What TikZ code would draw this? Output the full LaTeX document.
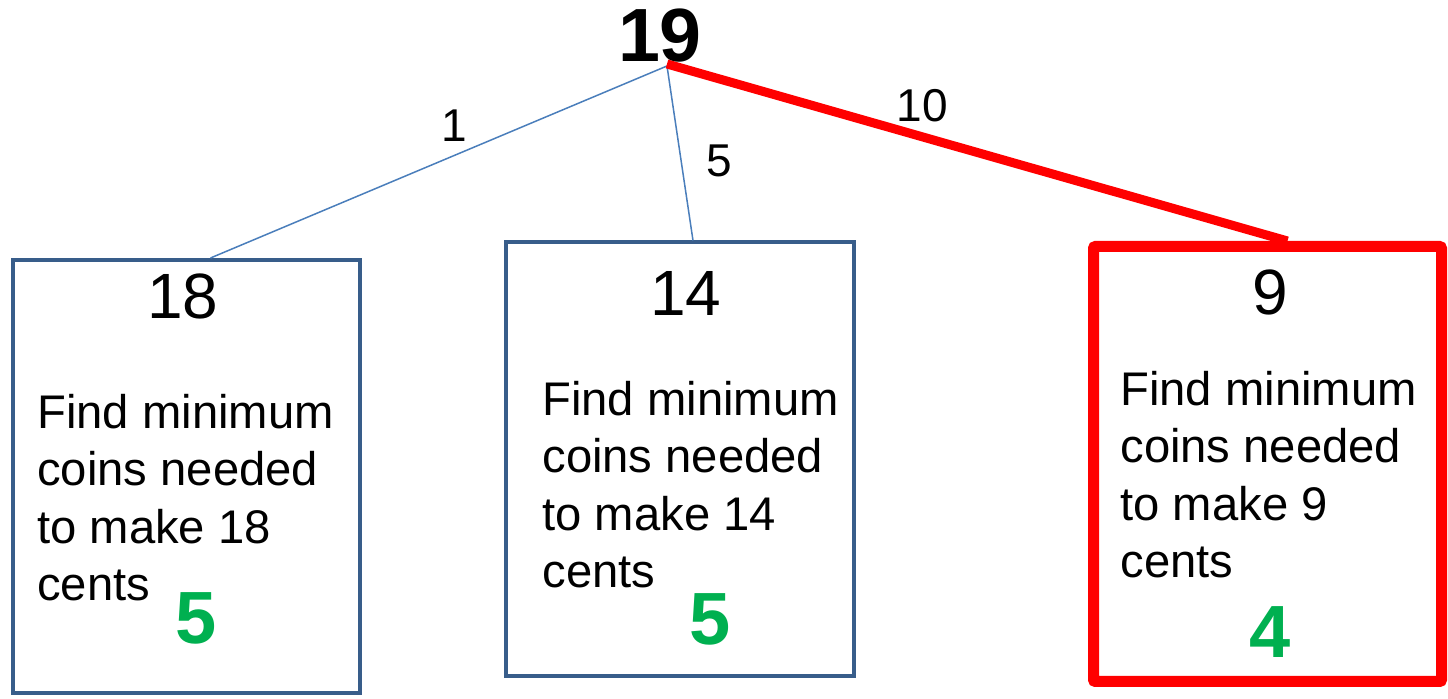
\documentclass[tikz,border=0pt]{standalone}
\usepackage{fontspec}
\setmainfont{Liberation Sans}
\usetikzlibrary{positioning}
\definecolor{boxedge}{HTML}{385D8A}
\definecolor{branch}{HTML}{4A7EBB}
\definecolor{pick}{HTML}{FF0000}
\definecolor{answer}{HTML}{00B050}

\begin{document}
\begin{tikzpicture}[x=0.5pt, y=-0.5pt,
  box/.style={draw=boxedge, line width=2pt, inner sep=0pt, minimum width=174pt, minimum height=216pt},
  best/.style={box, draw=pick, line width=5.5pt, rounded corners=1pt},
  amount/.style={font=\fontsize{32}{38}\selectfont, anchor=base},
  task/.style={font=\fontsize{23.6}{28.8}\selectfont, align=left, anchor=base west, inner sep=0pt},
  coins/.style={font=\fontsize{37}{44}\selectfont\bfseries, text=answer, anchor=base},
  weight/.style={font=\fontsize{23}{28}\selectfont},
  arr/.style={draw=branch, line width=0.75pt}]
\useasboundingbox (0,0) rectangle (1448,699);
\node[font=\fontsize{37.7}{44}\selectfont\bfseries, anchor=base] (root) at (660,62) {19};
\coordinate (top) at (667,66);
\node[box, minimum width=173.5pt, minimum height=216.5pt] (boxA) at (186.5,476.5) {};
\node[box, minimum height=217pt] (boxB) at (680,459.5) {};
\node[best, minimum height=217.5pt] (boxC) at (1267.5,464) {};
\node[amount] (a18) at (183,319) {18};
\node[amount] (a14) at (686,316) {14};
\node[amount] (a9) at (1270,315) {9};
% base anchor sits on the last line
\node[task] (tA) at (37,601) {Find minimum\\coins needed\\to make 18\\cents};
\node[task] (tB) at (542,588) {Find minimum\\coins needed\\to make 14\\cents};
\node[task] (tC) at (1120,578) {Find minimum\\coins needed\\to make 9\\cents};
\node[coins] (cA) at (196,644) {5};
\node[coins] (cB) at (710,645) {5};
\node[coins] (cC) at (1270,658) {4};
\draw[arr] (top) -- ([xshift=12pt]boxA.north) node[weight, pos=0.5, above=6.5pt, xshift=8pt] (w1) {1};
\draw[arr] (top) -- ([xshift=6.5pt]boxB.north) node[weight, pos=0.5, right=9.5pt, yshift=-4pt] (w5) {5};
\draw[pick, line width=4.5pt] ([yshift=1pt]top) -- ([xshift=10pt]boxC.north) node[weight, text=black, pos=0.4, above=1pt, xshift=3.5pt] (w10) {10};
\end{tikzpicture}
\end{document}
